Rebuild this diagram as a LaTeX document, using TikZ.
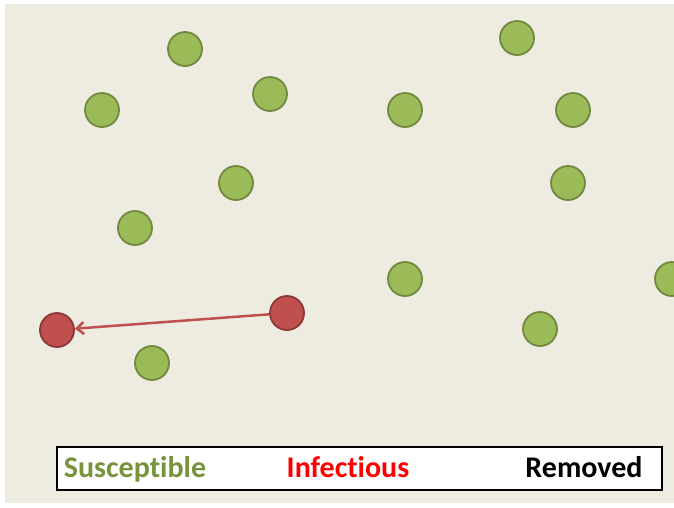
\documentclass[tikz,border=0pt]{standalone}
\usepackage{fontspec}
\setmainfont[Ligatures=NoCommon]{Carlito}
\usetikzlibrary{arrows.meta}
\definecolor{bgbeige}{HTML}{EEECE1}
\definecolor{sfill}{HTML}{9BBB59}
\definecolor{sedge}{HTML}{71893F}
\definecolor{ifill}{HTML}{C0504D}
\definecolor{iedge}{HTML}{8C3836}
\definecolor{stext}{HTML}{77933C}
\tikzset{
  sus/.style={circle, fill=sfill, draw=sedge, line width=1.8pt, minimum size=34pt, inner sep=0pt},
  inf/.style={circle, fill=ifill, draw=iedge, line width=1.8pt, minimum size=34pt, inner sep=0pt},
  contact/.style={draw=ifill, line width=2.5pt, -{Straight Barb[length=7pt,width=12pt,line width=2.5pt]}},
  legendbox/.style={draw=black, line width=1.5pt, fill=white},
  legendtext/.style={font=\fontsize{30}{33}\selectfont\bfseries, anchor=base, inner sep=0pt}
}
\begin{document}
\begin{tikzpicture}[x=1pt,y=-1pt]
\useasboundingbox (0,0) rectangle (674,507);
\fill[white] (0,0) rectangle (674,507);
\fill[bgbeige] (5,4) rectangle (674,503);
\begin{scope}
\clip (0,0) rectangle (674,507);
\node[sus] (s1) at (185,49) {};
\node[sus] (s2) at (102,110) {};
\node[sus] (s3) at (270,94) {};
\node[sus] (s4) at (236,183) {};
\node[sus] (s5) at (135,228) {};
\node[sus] (s6) at (405,110) {};
\node[sus] (s7) at (517,38) {};
\node[sus] (s8) at (573,110) {};
\node[sus] (s9) at (568,183) {};
\node[sus] (s10) at (405,279) {};
\node[sus] (s11) at (672,279) {};
\node[sus] (s12) at (540,329) {};
\node[sus] (s13) at (152,363) {};
\node[inf] (i1) at (287,313) {};
\node[inf] (i2) at (57,330) {};
\end{scope}
\draw[contact] (i1) -- (i2);
\node[legendbox, minimum width=605pt, minimum height=43pt, inner sep=0pt] (legend) at (359.5,468.5) {};
\node[legendtext, text=stext] (lsus) at (135,477) {Susceptible};
\node[legendtext, text=red] (linf) at (348,477) {Infectious};
\node[legendtext, text=black] (lrem) at (584,477) {Removed};
\end{tikzpicture}
\end{document}
